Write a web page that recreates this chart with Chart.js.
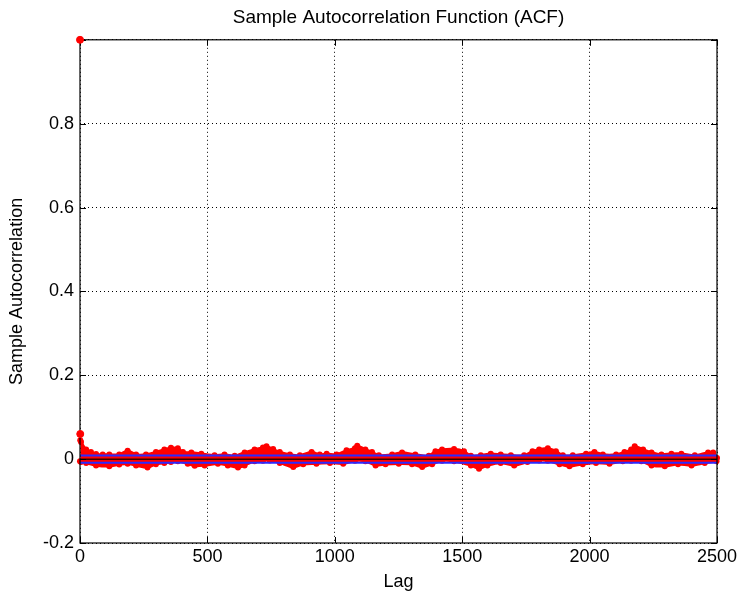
<!DOCTYPE html>
<html>
<head>
<meta charset="utf-8">
<script src="https://cdn.jsdelivr.net/npm/chart.js@4.4.0/dist/chart.umd.min.js"></script>
<style>
  html, body { margin: 0; padding: 0; background: #fff; }
  #wrap { width: 737px; height: 596px; }
</style>
</head>
<body>
<div id="wrap"><canvas id="acf"></canvas></div>
<script>
// axis ticks
const xTicks = [0, 500, 1000, 1500, 2000, 2500];
const yTicks = [-0.2, 0, 0.2, 0.4, 0.6, 0.8, 1.0];

// big spike at the start
const spikeLags = [0, 1];
const spikeVals = [1.0, 0.06];

// positive side of the stem band
const upperLags = [1, 4, 24, 43, 63, 89, 115, 154, 187, 220, 259, 298, 331, 357, 384, 404, 437, 476,
  528, 567, 607, 646, 685, 718, 732, 758, 784, 824, 863, 909, 941, 968, 1007, 1046, 1079, 1088,
  1120, 1146, 1173, 1225, 1264, 1316, 1369, 1395, 1421, 1468, 1507, 1534, 1573, 1612, 1651, 1691,
  1743, 1776, 1802, 1836, 1868, 1895, 1934, 1986, 2019, 2052, 2104, 2137, 2163, 2177, 2210, 2243,
  2282, 2321, 2360, 2413, 2465, 2485, 2500];
const upperVals = [0.045, 0.041, 0.023, 0.017, 0.012, 0.011, 0.011, 0.011, 0.020, 0.011, 0.011, 0.017,
  0.023, 0.027, 0.026, 0.017, 0.016, 0.013, 0.009, 0.011, 0.008, 0.016, 0.023, 0.028, 0.031, 0.024,
  0.017, 0.011, 0.009, 0.017, 0.011, 0.013, 0.011, 0.021, 0.026, 0.032, 0.023, 0.017, 0.009, 0.011,
  0.016, 0.011, 0.008, 0.019, 0.023, 0.024, 0.019, 0.008, 0.009, 0.013, 0.011, 0.009, 0.009, 0.019,
  0.023, 0.026, 0.019, 0.009, 0.009, 0.013, 0.017, 0.011, 0.011, 0.017, 0.023, 0.031, 0.023, 0.016,
  0.011, 0.013, 0.013, 0.009, 0.016, 0.016, 0.003];

// negative side of the stem band
const lowerLags = [0, 4, 24, 63, 115, 154, 187, 220, 265, 298, 331, 357, 384, 423, 450, 489, 541, 580,
  620, 646, 685, 718, 745, 784, 837, 876, 928, 981, 1033, 1079, 1120, 1160, 1199, 1251, 1303, 1343,
  1382, 1421, 1468, 1534, 1566, 1599, 1651, 1704, 1756, 1802, 1836, 1882, 1921, 1973, 2025, 2078,
  2130, 2163, 2203, 2243, 2295, 2347, 2400, 2452, 2498];
const lowerVals = [-0.005, -0.007, -0.009, -0.015, -0.017, -0.013, -0.011, -0.015, -0.020, -0.012, -0.009,
  -0.007, -0.005, -0.011, -0.016, -0.015, -0.011, -0.015, -0.020, -0.015, -0.005, -0.004, -0.003, -0.009,
  -0.019, -0.012, -0.011, -0.009, -0.011, -0.004, -0.005, -0.015, -0.012, -0.011, -0.012, -0.019, -0.012,
  -0.004, -0.005, -0.015, -0.023, -0.015, -0.009, -0.015, -0.007, -0.003, -0.004, -0.012, -0.017, -0.012,
  -0.009, -0.011, -0.005, -0.004, -0.005, -0.015, -0.017, -0.012, -0.015, -0.009, -0.005];

// approx 95% confidence bounds
const confBound = 0.0085;

const pts = (xs, ys) => xs.map((x, i) => ({ x: x, y: ys[i] }));
const FONT = "'Liberation Sans', Arial, Helvetica, sans-serif";

// box, inward tick marks; drawn just before the spike so the top dot sits over the corner
const framePlugin = {
  id: 'frame',
  afterDatasetDraw(chart, args) {
    if (args.index !== 1) return;
    const { ctx, chartArea: a, scales } = chart;
    const tl = 6;
    ctx.save();
    ctx.strokeStyle = '#000';
    ctx.lineWidth = 1;
    ctx.beginPath();
    xTicks.forEach(v => {
      const px = Math.round(scales.x.getPixelForValue(v)) + 0.5;
      ctx.moveTo(px, a.bottom); ctx.lineTo(px, a.bottom - tl);
      ctx.moveTo(px, a.top); ctx.lineTo(px, a.top + tl);
    });
    yTicks.forEach(v => {
      const py = Math.round(scales.y.getPixelForValue(v)) + 0.5;
      ctx.moveTo(a.left, py); ctx.lineTo(a.left + tl, py);
      ctx.moveTo(a.right, py); ctx.lineTo(a.right - tl, py);
    });
    ctx.stroke();
    ctx.lineWidth = 1.2;
    ctx.strokeRect(a.left, a.top, a.right - a.left, a.bottom - a.top);
    ctx.restore();
  }
};

new Chart(document.getElementById('acf'), {
  type: 'line',
  data: {
    datasets: [
      {
        data: pts(spikeLags, spikeVals),
        borderColor: '#ff0000',
        backgroundColor: '#ff0000',
        borderWidth: 1,
        pointRadius: 3.5,
        showLine: false,
        clip: false
      },
      {
        data: pts([0, 2500], [0, 0]),
        borderColor: '#3a0000',
        borderWidth: 1.5,
        pointRadius: 0
      },
      {
        data: pts([0, 2500], [confBound, confBound]),
        borderColor: '#2a2aff',
        borderWidth: 2,
        pointRadius: 0
      },
      {
        data: pts([0, 2500], [-confBound, -confBound]),
        borderColor: '#2a2aff',
        borderWidth: 2,
        pointRadius: 0
      },
      {
        data: pts(upperLags, upperVals),
        borderColor: '#ff0000',
        backgroundColor: '#ff0000',
        borderWidth: 2.5,
        pointRadius: 3,
        pointBorderWidth: 0,
        fill: 'origin',
        tension: 0.3,
        clip: 4
      },
      {
        data: pts(lowerLags, lowerVals),
        borderColor: '#ff0000',
        backgroundColor: '#ff0000',
        borderWidth: 2.5,
        pointRadius: 3,
        pointBorderWidth: 0,
        fill: 'origin',
        tension: 0.3,
        clip: 4
      }
    ]
  },
  options: {
    responsive: true,
    maintainAspectRatio: false,
    animation: false,
    layout: { padding: { top: 0, right: 20, bottom: 0, left: 0 } },
    plugins: {
      legend: { display: false },
      tooltip: { enabled: false },
      title: {
        display: true,
        fullSize: false,
        text: 'Sample Autocorrelation Function (ACF)',
        color: '#000',
        font: { family: FONT, size: 19, weight: 'normal' },
        padding: { top: 6, bottom: 11 }
      }
    },
    scales: {
      x: {
        type: 'linear',
        min: 0,
        max: 2500,
        afterBuildTicks: s => { s.ticks = xTicks.map(v => ({ value: v })); },
        afterFit: s => { s.height = 53; s.paddingLeft = 0; s.paddingRight = 0; },
        ticks: {
          color: '#000',
          font: { family: FONT, size: 18 },
          padding: 3,
          maxRotation: 0,
          callback: v => String(v)
        },
        grid: { color: '#000', drawTicks: false, lineWidth: 1 },
        border: { display: false, dash: [1, 3] },
        title: {
          display: true,
          text: 'Lag',
          color: '#000',
          font: { family: FONT, size: 18 },
          padding: { top: 0, bottom: 3 }
        }
      },
      y: {
        type: 'linear',
        min: -0.2,
        max: 1.0,
        afterBuildTicks: s => { s.ticks = yTicks.map(v => ({ value: v })); },
        afterFit: s => { s.width = 80; },
        ticks: {
          color: '#000',
          font: { family: FONT, size: 18 },
          padding: 6,
          callback: v => (Math.abs(v - 1) < 1e-9 ? '' : String(Math.round(v * 10) / 10))
        },
        grid: { color: '#000', drawTicks: false, lineWidth: 1 },
        border: { display: false, dash: [1, 3] },
        title: {
          display: true,
          text: 'Sample Autocorrelation',
          color: '#000',
          font: { family: FONT, size: 18 },
          padding: { top: 6, bottom: 0 }
        }
      }
    }
  },
  plugins: [framePlugin]
});
</script>
</body>
</html>
